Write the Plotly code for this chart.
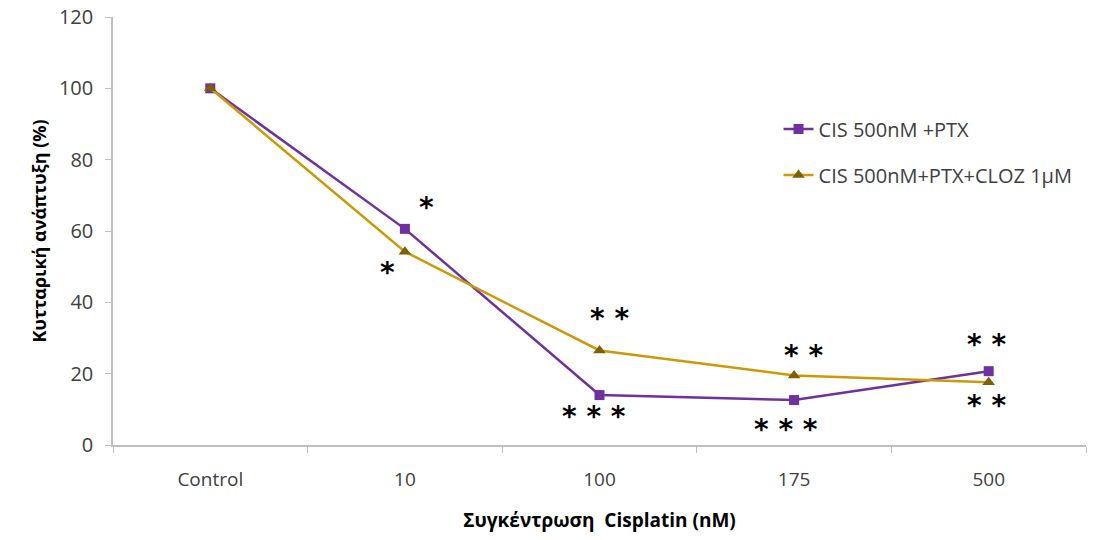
import plotly.graph_objects as go

categories = ["Control", "10", "100", "175", "500"]
cis_ptx = [100, 60.6, 14.0, 12.6, 20.7]
cis_ptx_cloz = [100, 54.2, 26.5, 19.5, 17.6]
series_names = ["CIS 500nM +PTX", "CIS 500nM+PTX+CLOZ 1μM"]
y_ticks = [0, 20, 40, 60, 80, 100, 120]

# significance marks: (x index, y value, text)
sig_marks = [
    (1.11, 66.5, "*"), (0.91, 48.5, "*"),
    (2.05, 35.5, "* *"), (1.97, 8.0, "* * *"),
    (3.05, 25.0, "* *"), (2.96, 4.3, "* * *"),
    (3.99, 28.3, "* *"), (3.99, 11.0, "* *"),
]

FONT = "Open Sans"
fig = go.Figure()
fig.add_trace(go.Scatter(
    x=categories, y=cis_ptx, name=series_names[0], mode="lines+markers",
    line=dict(color="#7030A0", width=2.5),
    marker=dict(symbol="square", size=10, color="#7030A0"),
    legendgroup="a"))
fig.add_trace(go.Scatter(
    x=categories, y=cis_ptx_cloz, name=series_names[1], mode="lines+markers",
    line=dict(color="#CC9A06", width=2.5),
    marker=dict(symbol="triangle-up", size=11, color="#7F6000"),
    legendgroup="b"))

for xi, yv, txt in sig_marks:
    fig.add_annotation(x=xi, y=yv, xref="x", yref="y", text="<b>" + txt + "</b>",
                       showarrow=False,
                       font=dict(size=28, color="#000000", family="DejaVu Sans"))

fig.update_layout(
    width=1097, height=540,
    margin=dict(l=113, r=11, t=17, b=95),
    paper_bgcolor="white", plot_bgcolor="white",
    font=dict(family=FONT, size=20, color="#404040"),
    showlegend=True,
    legend=dict(x=0.684, y=0.784, xanchor="left", yanchor="top",
                font=dict(size=20, color="#404040", family=FONT),
                tracegroupgap=17, bgcolor="rgba(0,0,0,0)"),
    xaxis=dict(type="category", range=[-0.5, 4.5], tickson="boundaries",
               ticks="outside", ticklen=6, tickcolor="#BFBFBF",
               showline=True, linecolor="#BFBFBF", linewidth=1.5,
               showgrid=False, zeroline=False, ticklabelstandoff=16,
               automargin=False,
               tickfont=dict(size=19, color="#404040"),
               title=dict(text="<b>Συγκέντρωση  Cisplatin (nM)</b>",
                          font=dict(size=19, color="#000000"), standoff=23)),
    yaxis=dict(range=[0, 120], tickvals=y_ticks, ticks="outside", ticklen=6,
               tickcolor="#BFBFBF", showline=True, linecolor="#BFBFBF",
               linewidth=1.5, showgrid=False, zeroline=False,
               ticklabelstandoff=8, automargin=False,
               tickfont=dict(size=20, color="#404040"),
               title=dict(text="<b>Κυτταρική ανάπτυξη (%)</b>",
                          font=dict(size=18, color="#000000"), standoff=8)),
)

fig.write_html("out.html")
